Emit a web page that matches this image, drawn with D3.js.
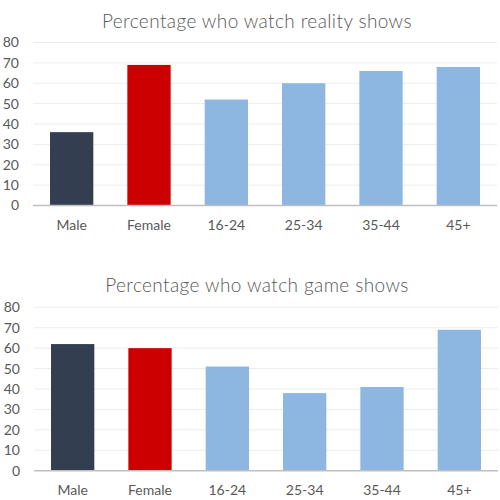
<html>
<head>
  <script src="https://cdn.jsdelivr.net/npm/d3@7"></script>
  <style>
  body { margin: 0; background: #fff; }
  text { font-family: Lato, "Open Sans", sans-serif; fill: #595959; }
  </style>
</head>
<body>
<script>
var categories = ["Male", "Female", "16-24", "25-34", "35-44", "45+"];
var realityValues = [36, 69, 52, 60, 66, 68];
var gameValues = [62, 60, 51, 38, 41, 69];
var yTicks = [0, 10, 20, 30, 40, 50, 60, 70, 80];
var titles = ["Percentage who watch reality shows", "Percentage who watch game shows"];
var barColors = ["#333f50", "#cc0000", "#8db6e1", "#8db6e1", "#8db6e1", "#8db6e1"];

var svg = d3.select("body").append("svg")
  .attr("width", 500)
  .attr("height", 500);

function drawChart(title, values, top, left, right, bottom) {
  var g = svg.append("g");

  var x = d3.scaleBand()
    .domain(categories)
    .range([left, right])
    .paddingInner(0.44)
    .paddingOuter(0.22);

  var y = d3.scaleLinear()
    .domain([0, 80])
    .range([bottom, top]);

  // gridlines
  g.selectAll("line.grid")
    .data(yTicks.slice(1))
    .enter().append("line")
    .attr("class", "grid")
    .attr("x1", left)
    .attr("x2", right)
    .attr("y1", function(d) { return y(d); })
    .attr("y2", function(d) { return y(d); })
    .attr("stroke", "#ececec")
    .attr("stroke-width", 1);

  g.selectAll("rect")
    .data(values)
    .enter().append("rect")
    .attr("x", function(d, i) { return x(categories[i]); })
    .attr("width", x.bandwidth())
    .attr("y", function(d) { return y(d); })
    .attr("height", function(d) { return y(0) - y(d); })
    .attr("fill", function(d, i) { return barColors[i]; });

  // y labels
  var yAxis = d3.axisLeft(y).tickValues(yTicks).tickSize(0).tickPadding(0);
  var ya = g.append("g").attr("transform", "translate(" + (left - 14) + ",0)").call(yAxis);
  ya.select(".domain").remove();
  ya.selectAll("text").style("font-size", "14px").attr("fill", "#595959");

  // x labels
  var xAxis = d3.axisBottom(x).tickSize(0).tickPadding(0);
  var xa = g.append("g").attr("transform", "translate(0," + bottom + ")").call(xAxis);
  xa.select(".domain").remove();
  xa.selectAll("text").style("font-size", "14px").attr("fill", "#595959").attr("dy", "24px");

  // baseline
  g.append("line")
    .attr("x1", left)
    .attr("x2", right)
    .attr("y1", y(0))
    .attr("y2", y(0))
    .attr("stroke", "#bfbfbf")
    .attr("stroke-width", 1.5);

  g.append("text")
    .attr("x", 257)
    .attr("y", top - 15)
    .attr("text-anchor", "middle")
    .style("font-size", "19px")
    .style("font-weight", 300)
    .style("letter-spacing", "0.4px")
    .text(title);
}

drawChart(titles[0], realityValues, 42.5, 33, 497, 205.5);
drawChart(titles[1], gameValues, 307.3, 34, 498, 470.7);
</script>
</body>
</html>
